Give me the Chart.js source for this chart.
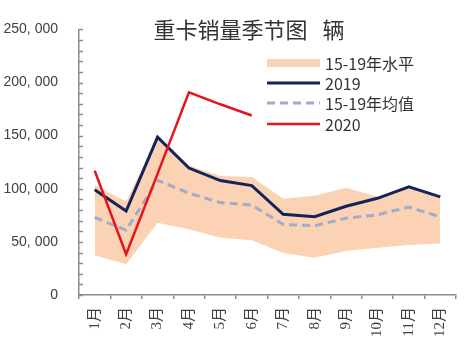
<!DOCTYPE html>
<html>
<head>
<meta charset="utf-8">
<script src="https://cdn.jsdelivr.net/npm/chart.js@4/dist/chart.umd.min.js"></script>
<style>
html,body{margin:0;padding:0;background:#fff;}
#wrap{width:472px;height:355px;position:relative;}
</style>
</head>
<body>
<div id="wrap"><canvas id="c" width="472" height="355"></canvas></div>
<script>
const months = ['1月','2月','3月','4月','5月','6月','7月','8月','9月','10月','11月','12月'];
const bandLower = [37500, 29000, 68000, 62000, 54000, 51500, 39500, 35000, 41500, 44500, 47000, 48500];
const bandUpper = [103500, 88000, 148500, 122000, 112000, 111000, 90500, 93500, 101000, 92500, 101800, 92300];
const sales2019 = [99000, 79000, 148500, 119500, 107700, 103000, 76000, 73700, 83500, 91000, 101800, 92300];
const mean1519 = [73000, 61000, 108000, 95800, 87000, 84700, 66400, 65200, 72300, 75500, 82800, 73500];
const sales2020 = [117000, 38300, 114000, 190800, 179500, 169000];
const yTicks = [0, 50000, 100000, 150000, 200000, 250000];
const titleText = '重卡销量季节图   辆';
const legendItems = ['15-19年水平', '2019', '15-19年均值', '2020'];

const C_BAND = '#FBD3B4', C_NAVY = '#14245A', C_MEAN = '#A2ACCA', C_RED = '#E8141C', C_AXIS = '#8C8C8C';
const CJK = '"Noto Sans CJK SC", "Noto Sans", sans-serif';

function fmt(v){
  if (v === 0) return '0';
  return Math.floor(v/1000) + ', ' + String(v%1000).padStart(3,'0');
}

const decor = {
  id: 'decor',
  afterDatasetsDraw(chart){
    const ctx = chart.ctx, ys = chart.scales.y;
    ctx.save();
    ctx.strokeStyle = C_AXIS; ctx.lineWidth = 1.5;
    for (let v = 0; v <= 250000; v += 10000){
      const py = Math.round(ys.getPixelForValue(v)) + 0.5;
      ctx.beginPath(); ctx.moveTo(ys.right, py); ctx.lineTo(ys.right + 4, py); ctx.stroke();
    }
    ctx.fillStyle = '#333';
    ctx.font = '22px ' + CJK;
    ctx.textAlign = 'center'; ctx.textBaseline = 'middle';
    ctx.fillText(titleText, 249, 30);
    const ds = chart.data.datasets;
    const rows = [
      {y: 63, ds: ds[1], band: true},
      {y: 83, ds: ds[2]},
      {y: 103, ds: ds[3]},
      {y: 124, ds: ds[4]}
    ];
    const x0 = 267, x1 = 320;
    ctx.font = '16px ' + CJK;
    ctx.textAlign = 'left';
    rows.forEach((r, i) => {
      if (r.band){
        ctx.fillStyle = r.ds.backgroundColor;
        ctx.fillRect(x0, r.y - 4, x1 - x0, 8);
      } else {
        ctx.strokeStyle = r.ds.borderColor;
        ctx.lineWidth = r.ds.borderWidth;
        ctx.setLineDash(r.ds.borderDash || []);
        ctx.beginPath(); ctx.moveTo(x0, r.y); ctx.lineTo(x1, r.y); ctx.stroke();
        ctx.setLineDash([]);
      }
      ctx.fillStyle = '#333';
      ctx.fillText(legendItems[i], 325, r.y + 1);
    });
    ctx.restore();
  }
};

new Chart(document.getElementById('c'), {
  type: 'line',
  data: {
    labels: months,
    datasets: [
      {label: 'lower', data: bandLower, borderWidth: 0, borderColor: 'rgba(0,0,0,0)', pointRadius: 0, fill: false, order: 11},
      {label: legendItems[0], data: bandUpper, borderWidth: 0, borderColor: 'rgba(0,0,0,0)', backgroundColor: C_BAND, pointRadius: 0, fill: '-1', order: 10},
      {label: legendItems[1], data: sales2019, borderColor: C_NAVY, borderWidth: 3, pointRadius: 0, fill: false, order: 2},
      {label: legendItems[2], data: mean1519, borderColor: C_MEAN, borderWidth: 3, borderDash: [8, 5], pointRadius: 0, fill: false, order: 3},
      {label: legendItems[3], data: sales2020, borderColor: C_RED, borderWidth: 2.5, pointRadius: 0, fill: false, order: 1}
    ]
  },
  options: {
    responsive: false,
    animation: false,
    devicePixelRatio: 1,
    layout: {padding: {top: 13, right: 16, left: 0, bottom: 0}},
    plugins: {legend: {display: false}, tooltip: {enabled: false}, title: {display: false}},
    elements: {line: {tension: 0}},
    scales: {
      x: {
        type: 'category',
        offset: true,
        grid: {display: true, drawOnChartArea: false, drawTicks: true, tickLength: 4, offset: true, color: C_AXIS, lineWidth: 1.5},
        border: {display: true, color: C_AXIS, width: 1.5},
        ticks: {minRotation: 90, maxRotation: 90, autoSkip: false, padding: 8, color: '#404040',
                font: {family: '"Liberation Serif", "Noto Sans CJK SC", serif', size: 15}},
        afterFit(s){ s.height = 60; }
      },
      y: {
        min: 0, max: 250000,
        afterBuildTicks(s){ s.ticks = yTicks.map(v => ({value: v})); },
        grid: {display: false, drawTicks: false},
        border: {display: true, color: C_AXIS, width: 1.5},
        ticks: {callback: v => fmt(v), padding: 21, color: '#404040',
                font: {family: '"Liberation Sans", sans-serif', size: 14}},
        afterFit(s){ s.width = 79; }
      }
    }
  },
  plugins: [decor]
});
</script>
</body>
</html>
